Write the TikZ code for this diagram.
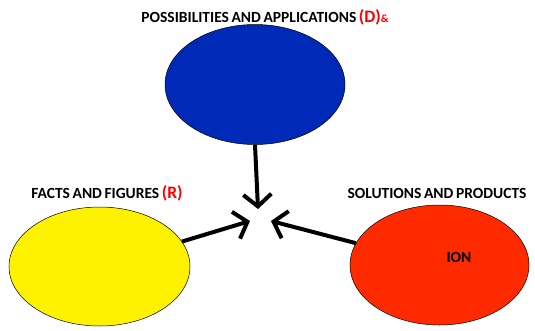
\documentclass[tikz,border=0pt]{standalone}
\usepackage{fontspec}
\setmainfont{Carlito}
\usetikzlibrary{shapes.geometric,arrows.meta}

\definecolor{dblue}{RGB}{0,41,184}
\definecolor{fred}{RGB}{255,42,0}

\tikzset{
  blob/.style={ellipse, draw=black, line width=0.5pt, minimum width=180pt, minimum height=120pt, inner sep=0pt},
  lbl/.style={font=\bfseries\fontsize{15.5}{17}\selectfont, inner sep=0pt},
  thrust/.style={line width=4pt}
}
\newcommand{\redbit}[1]{{\color{red}\fontsize{17.5}{20}\selectfont#1}}

\begin{document}
\begin{tikzpicture}[x=1pt, y=-1pt, >={Straight Barb[length=12pt,width=28pt]}]
\useasboundingbox (0,0) rectangle (535,330);

\node[blob, fill=dblue] (blue) at (255,84.5) {};
\node[blob, fill=yellow, minimum width=181pt, minimum height=119pt] (yel) at (99.5,266.5) {};
\node[blob, fill=fred, minimum width=179pt] (red) at (439.5,265) {};

\node[lbl] (top) at (265,17) {POSSIBILITIES\,AND\,APPLICATIONS\,\redbit{(D)}{\color{red}\fontsize{11}{12}\selectfont\&}};
\node[lbl] (left) at (107,193) {FACTS\,AND\,FIGURES\,\redbit{(R)}};
\node[lbl] (right) at (437,193) {SOLUTIONS\,AND\,PRODUCTS};
\node[lbl] (ion) at (459,257) {ION};

\coordinate (tipD) at (258,209);
\coordinate (tipR) at (250,221);
\coordinate (tipS) at (271,221);

\draw[->, thrust] (blue.south) -- (tipD);
\draw[->, thrust] (yel) -- (tipR);
\draw[->, thrust] (red) -- (tipS);
\end{tikzpicture}
\end{document}
